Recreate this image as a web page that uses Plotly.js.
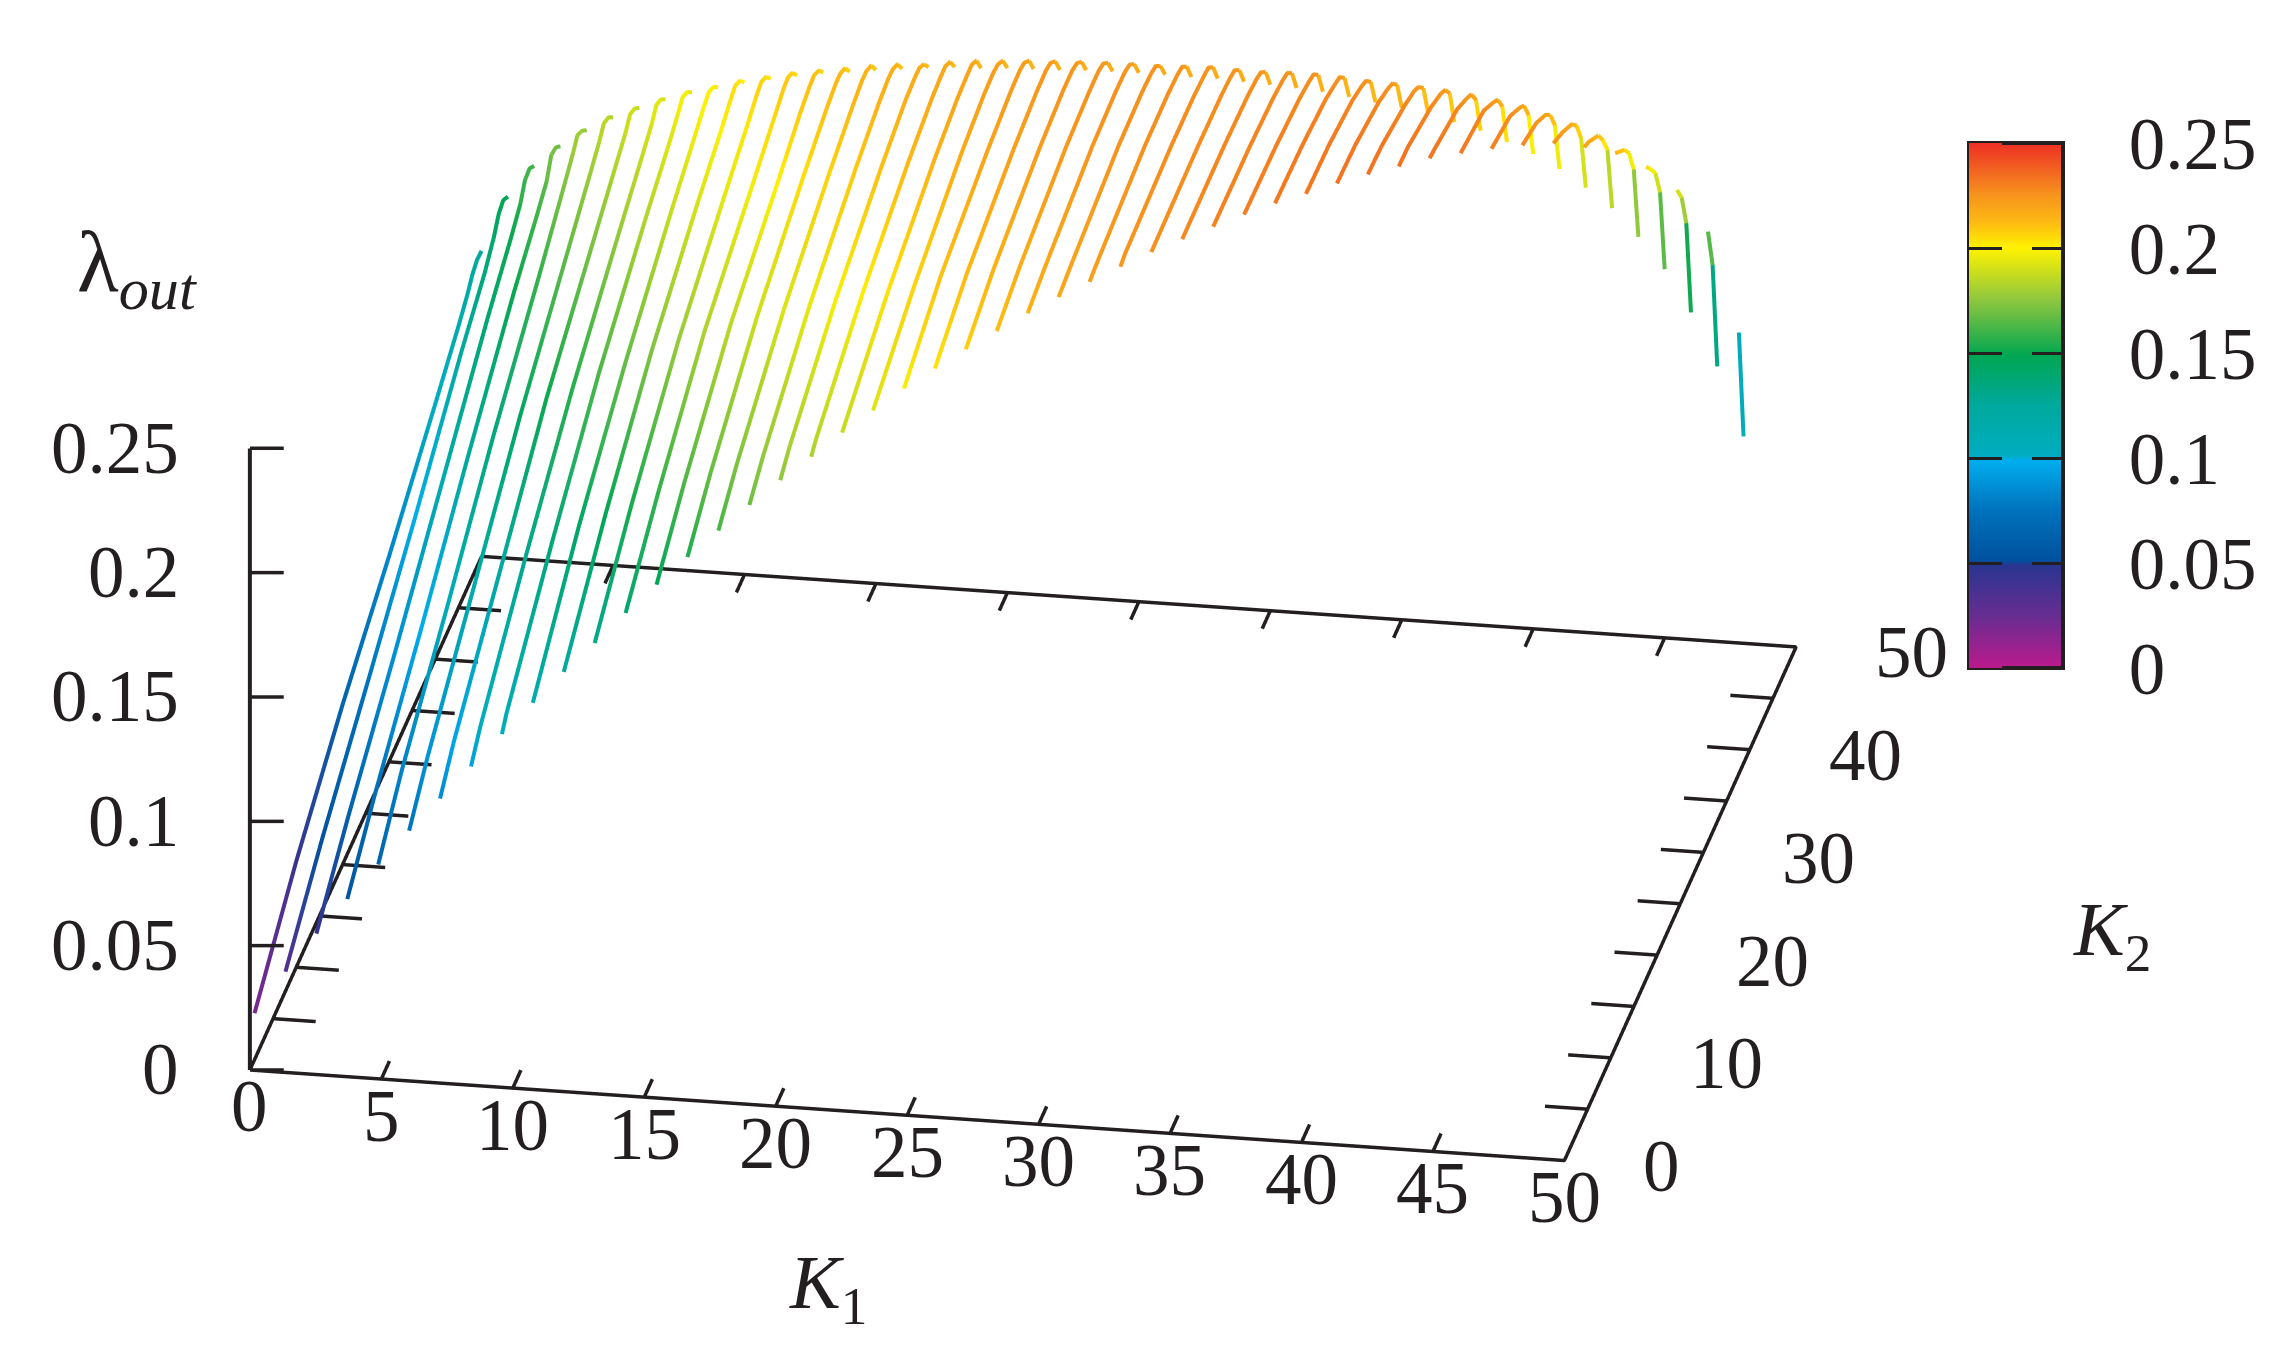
<!DOCTYPE html>
<html><head><meta charset="utf-8">
<script src="https://cdn.plot.ly/plotly-3.0.1.min.js"></script>
<style>html,body{margin:0;padding:0;background:#fff}#g{width:2295px;height:1369px}</style>
</head><body><div id="g"></div>
<script>
// K2 knots shared by all curves; a curve n has K1 = n-1 and starts at K2 = n
const k2Knots=[10,20,30,40,45,47,48,49,50];
const lamStart=[.0187,.0320,.0439,.0544,.0649,.0751,.0846,.0941,.1037,.1129,.1219,.1301,.1388,.1468,.1545,.1617,.1686,.1752,.1812,.1875,.1930,.1984,.2031,.2074,.2113,.2151,.2182,.2209,.2236,.2261,.2279,.2295,.2310,.2321,.2325,.2333,.2335,.2333,.2332,.2318,.2302,.2282,.2256,.2206,.2148,.2060,.1932,.1731,.1291];
const lamK10=[.0426,.0529,.0629,.0720,.0815,.0884,.0953,.1018,.1080];
const lamK20=[.0643,.0757,.0870,.0974,.1073,.1155,.1229,.1303,.1367,.1431,.1481,.1531,.1581,.1631,.1678,.1721,.1761,.1803,.1839];
const lamK30=[.0825,.0992,.1129,.1247,.1350,.1431,.1508,.1559,.1626,.1673,.1728,.1770,.1817,.1855,.1891,.1921,.1951,.1983,.2010,.2035,.2065,.2109,.2129,.2149,.2167,.2184,.2201,.2221,.2247];
const lamK40=[.1026,.1245,.1389,.1500,.1589,.1662,.1720,.1770,.1830,.1874,.1914,.1943,.1973,.2003,.2042,.2067,.2092,.2112,.2132,.2151,.2176,.2196,.2211,.2226,.2236,.2246,.2256,.2263,.2269,.2271,.2281,.2291,.2301,.2311,.2316,.2323,.2326,.2329,.2326];
const lamK45=[.1132,.1354,.1502,.1605,.1719,.1778,.1827,.1871,.1920,.1965,.1995,.2024,.2054,.2084,.2108,.2128,.2148,.2163,.2177,.2192,.2212,.2227,.2237,.2247,.2252,.2257,.2262,.2265,.2267,.2267,.2272,.2277,.2282,.2287,.2287,.2287,.2283,.2283,.2283,.2283,.2268,.2248,.2218,.2187];
const lamK47=[.1181,.1417,.1555,.1653,.1772,.1826,.1870,.1914,.1963,.2003,.2033,.2062,.2087,.2107,.2127,.2147,.2162,.2171,.2186,.2198,.2216,.2231,.2239,.2246,.2251,.2254,.2256,.2258,.2259,.2259,.2261,.2264,.2266,.2265,.2262,.2259,.2257,.2252,.2242,.2232,.2218,.2198,.2168,.2129,.2079,.2008];
const lamK48=[.1215,.1466,.1609,.1717,.1806,.1860,.1904,.1949,.1988,.2016,.2048,.2072,.2095,.2112,.2127,.2145,.2159,.2170,.2186,.2199,.2208,.2221,.2228,.2234,.2239,.2242,.2244,.2248,.2252,.2249,.2248,.2252,.2254,.2251,.2243,.2239,.2233,.2227,.2217,.2203,.2186,.2156,.2120,.2070,.2024,.1951,.1860];
const lamK49=[.1233,.1481,.1616,.1708,.1782,.1843,.1886,.1930,.1967,.1995,.2027,.2050,.2073,.2090,.2106,.2124,.2137,.2144,.2161,.2173,.2180,.2187,.2192,.2197,.2201,.2203,.2202,.2207,.2212,.2208,.2207,.2210,.2210,.2205,.2196,.2192,.2186,.2173,.2153,.2134,.2107,.2074,.2028,.1989,.1918,.1833,.1716,.1555];
const lamK50=[.1229,.1454,.1584,.1671,.1743,.1802,.1847,.1889,.1923,.1951,.1978,.2000,.2021,.2041,.2051,.2065,.2077,.2091,.2098,.2101,.2109,.2113,.2116,.2122,.2125,.2126,.2126,.2124,.2125,.2120,.2115,.2109,.2101,.2088,.2073,.2059,.2046,.2015,.1988,.1950,.1909,.1856,.1788,.1713,.1605,.1482,.1316,.1106,.0832];
const knotColumns=[lamK10,lamK20,lamK30,lamK40,lamK45,lamK47,lamK48,lamK49,lamK50];

const k1Ticks=[0,5,10,15,20,25,30,35,40,45,50];
const k2Ticks=[0,5,10,15,20,25,30,35,40,45,50];
const k2Labels=[0,10,20,30,40,50];
const zTicks=[0,0.05,0.1,0.15,0.2,0.25];
const zTickText=['0','0.05','0.1','0.15','0.2','0.25'];

const ink='#231f20', serif='"Liberation Serif","Times New Roman",serif', fs=73;
const scale=[[0,'#bb1a8c'],[.1,'#662d91'],[.195,'#2a3590'],[.205,'#00519e'],[.3,'#0072bc'],[.395,'#00aeef'],[.405,'#00adc0'],[.5,'#00a99d'],[.595,'#00a651'],[.7,'#8dc63f'],[.8,'#fff200'],[.85,'#fdb913'],[.9,'#f7941d'],[1,'#ed2f24']];

const traces=[];
lamStart.forEach((z0,i)=>{
  const n=i+1, K1=i, pk=[n], pz=[z0];
  k2Knots.forEach((k,c)=>{ if(k>n){pk.push(k);pz.push(knotColumns[c][i]);} });
  const xs=[],ys=[],zs=[],cs=[];
  for(let s=0;s<pk.length-1;s++){
    const flat=pk[s]>=47||pk.length===2;
    const m=(pz[s]+pz[s+1])/2;
    xs.push(K1,K1);ys.push(pk[s],pk[s+1]);zs.push(pz[s],pz[s+1]);
    cs.push(flat?m:pz[s],flat?m:pz[s+1]);
  }
  const cbMain={thickness:94,thicknessmode:'pixels',len:525,lenmode:'pixels',x:1969/2295,xanchor:'left',y:1-143/1369,yanchor:'top',xpad:0,ypad:0,
    outlinecolor:ink,outlinewidth:4,tickmode:'array',tickvals:zTicks,ticktext:zTickText.map(t=>'\u2002\u2006'+t),ticks:'inside',ticklen:33,tickwidth:3,tickcolor:ink,
    tickfont:{family:serif,size:fs,color:ink}};
  const cbLeft={thickness:33,thicknessmode:'pixels',len:525,lenmode:'pixels',x:1969/2295,xanchor:'left',y:1-143/1369,yanchor:'top',xpad:0,ypad:0,
    outlinewidth:0,tickmode:'array',tickvals:zTicks,ticktext:['','','','','',''],ticks:'inside',ticklen:33,tickwidth:3,tickcolor:ink};
  traces.push({type:'scatter3d',mode:'lines',x:xs,y:ys,z:zs,hoverinfo:'skip',showlegend:false,
    line:{width:8,color:cs,colorscale:scale,cmin:0,cmax:0.25,showscale:i<2,colorbar:i===0?cbMain:(i===1?cbLeft:undefined)}});
});

// floor frame, ticks
function seg(xa,ya,za,w){traces.push({type:'scatter3d',mode:'lines',x:xa,y:ya,z:za,hoverinfo:'skip',showlegend:false,line:{color:ink,width:w||7}});}
seg([0,50,50,0,0],[0,0,50,50,0],[0,0,0,0,0]);
seg([0,0],[0,0],[0,.25],8);
const tk=1.75, tl=1.62;
k1Ticks.forEach(k=>{seg([k,k],[0,tk],[0,0]);seg([k,k],[50,50-tk],[0,0]);});
k2Ticks.forEach(k=>{seg([0,tl],[k,k],[0,0]);seg([50,50-tl],[k,k],[0,0]);});
zTicks.forEach(v=>{seg([0,1.25],[0,.22],[v,v]);});

const ann=[];
const f={family:serif,size:fs,color:ink};
k1Ticks.forEach(k=>ann.push({x:k,y:0,z:0,text:String(k),showarrow:false,font:f,xanchor:'center',yanchor:'middle',yshift:-37}));
k2Labels.forEach(k=>ann.push({x:50,y:k,z:0,text:String(k),showarrow:false,font:f,xanchor:'left',yanchor:'middle',xshift:77,yshift:-6}));
zTicks.forEach((v,i)=>ann.push({x:0,y:0,z:v,text:zTickText[i],showarrow:false,font:f,xanchor:'right',yanchor:'middle',xshift:-69}));

// orthographic view; the look-at point is moved down the camera's up vector to place the box in the full-height scene
const R=2, ex=.1598, ey=-.9065, ez=.3907, zoomK=1.95;
const cx=.01356, cy=-.07696, cz=-.1841;
const ax={visible:false,showgrid:false,zeroline:false,showbackground:false,showspikes:false};
const layout={width:2295,height:1369,margin:{l:0,r:0,t:0,b:0},paper_bgcolor:'#fff',showlegend:false,
  scene:{domain:{x:[0,.8914],y:[0,1]},aspectmode:'manual',aspectratio:{x:zoomK,y:zoomK,z:.506*zoomK},
    camera:{eye:{x:cx+ex*R,y:cy+ey*R,z:cz+ez*R},center:{x:cx,y:cy,z:cz},up:{x:0,y:0,z:1},projection:{type:'orthographic'}},
    xaxis:Object.assign({range:[0,50],title:{text:''}},ax),yaxis:Object.assign({range:[0,50],title:{text:''}},ax),zaxis:Object.assign({range:[0,.25],title:{text:''}},ax),
    annotations:ann},
  annotations:[
    {xref:'paper',yref:'paper',x:137/2295,y:1-268/1369,text:'λ<sub><i>out</i></sub>',showarrow:false,font:{family:serif,size:86,color:ink},xanchor:'center',yanchor:'middle'},
    {xref:'paper',yref:'paper',x:828/2295,y:1-1288/1369,text:'<i>K</i><sub>1</sub>',showarrow:false,font:{family:serif,size:76,color:ink},xanchor:'center',yanchor:'middle'},
    {xref:'paper',yref:'paper',x:2112/2295,y:1-935/1369,text:'<i>K</i><sub>2</sub>',showarrow:false,font:{family:serif,size:76,color:ink},xanchor:'center',yanchor:'middle'}
  ]};
Plotly.newPlot('g',traces,layout,{displayModeBar:false,staticPlot:false});
</script></body></html>
